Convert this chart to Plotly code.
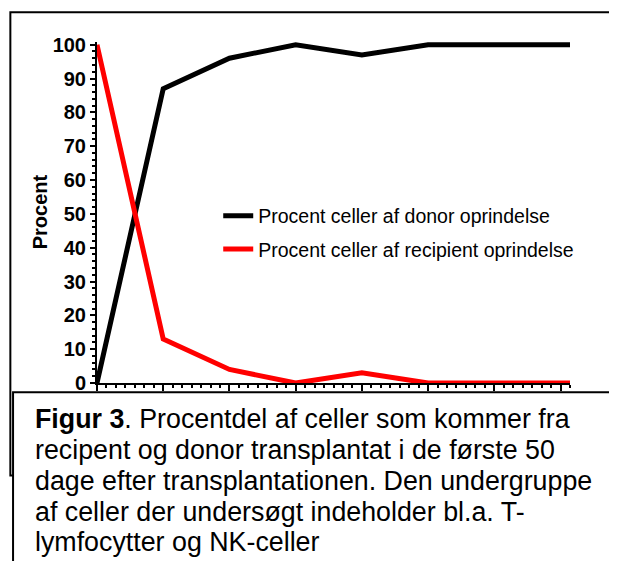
import plotly.graph_objects as go

days = [0, 7, 14, 21, 28, 35, 42, 50]
donor = [0, 87, 96, 100, 97, 100, 100, 100]
recipient = [100, 13, 4, 0, 3, 0, 0, 0]
series_names = ["Procent celler af donor oprindelse", "Procent celler af recipient oprindelse"]
y_ticks = [0, 10, 20, 30, 40, 50, 60, 70, 80, 90, 100]
y_title = "Procent"
caption_lines = [
    "<b>Figur 3</b>. Procentdel af celler som kommer fra",
    "recipent og donor transplantat i de første 50",
    "dage efter transplantationen. Den undergruppe",
    "af celler der undersøgt indeholder bl.a. T-",
    "lymfocytter og NK-celler",
]

FONT = "Liberation Sans, Arial, sans-serif"
OFF = 8  # page body margin
W, H = 617 - OFF, 561 - OFF
# plot area in reference-page pixels
PX0, PX1 = 96.7, 570.0
PY0, PY1 = 41.8, 383.3
L, R = PX0 - OFF, W - (PX1 - OFF)
T, B = PY0 - OFF, H - (PY1 - OFF)
pw = PX1 - PX0
ph = PY1 - PY0


def px(x):
    return (x - PX0) / pw


def py(y):
    return (PY1 - y) / ph


fig = go.Figure()
fig.add_trace(go.Scatter(x=days, y=donor, mode="lines", name=series_names[0],
                         line=dict(color="black", width=5), legendgroup="a"))
fig.add_trace(go.Scatter(x=days, y=recipient, mode="lines", name=series_names[1],
                         line=dict(color="#ff0000", width=5), legendgroup="b"))

fig.update_layout(
    width=W, height=H,
    margin=dict(l=L, r=R, t=T, b=B, pad=0),
    paper_bgcolor="white", plot_bgcolor="white",
    font=dict(family=FONT, color="black"),
    showlegend=True,
    legend=dict(x=px(218), y=py(196.5), xanchor="left", yanchor="top",
                font=dict(size=19.5, family=FONT), tracegroupgap=5,
                bgcolor="rgba(0,0,0,0)", borderwidth=0),
    xaxis=dict(range=[0, 50], showgrid=False, zeroline=False,
               showline=True, linecolor="black", linewidth=2,
               ticks="outside", tick0=0, dtick=7, ticklen=6, tickwidth=2,
               tickcolor="black", showticklabels=False,
               minor=dict(dtick=1, ticks="outside", ticklen=3, tickwidth=1.5,
                          tickcolor="black", showgrid=False)),
    yaxis=dict(range=[0, 100.8], showgrid=False, zeroline=False,
               showline=True, linecolor="black", linewidth=2,
               ticks="outside", tickvals=y_ticks, ticklen=5, tickwidth=2,
               tickcolor="black",
               tickfont=dict(size=20, family=FONT, weight="bold"),
               minor=dict(dtick=2, ticks="outside", ticklen=3, tickwidth=1.5,
                          tickcolor="black", showgrid=False)),
)

# outer frame
fig.add_shape(type="rect", xref="paper", yref="paper",
              x0=px(10), x1=px(614.5), y0=py(476), y1=py(12),
              line=dict(color="black", width=2), fillcolor="rgba(0,0,0,0)")
# caption box
fig.add_shape(type="rect", xref="paper", yref="paper",
              x0=px(12.7), x1=px(616), y0=py(620), y1=py(392.5),
              line=dict(color="black", width=2), fillcolor="white")

fig.add_annotation(text="<b>" + y_title + "</b>", xref="paper", yref="paper",
                   x=px(40), y=py(212), textangle=-90, showarrow=False,
                   font=dict(size=20, family=FONT), xanchor="center", yanchor="middle")

line_y = [419, 450, 481, 512, 543]
for txt, yy in zip(caption_lines, line_y):
    fig.add_annotation(text=txt, xref="paper", yref="paper",
                       x=px(33), y=py(yy), xanchor="left", yanchor="middle",
                       align="left", showarrow=False,
                       font=dict(size=26.8, family=FONT))

fig.write_html("out.html")
